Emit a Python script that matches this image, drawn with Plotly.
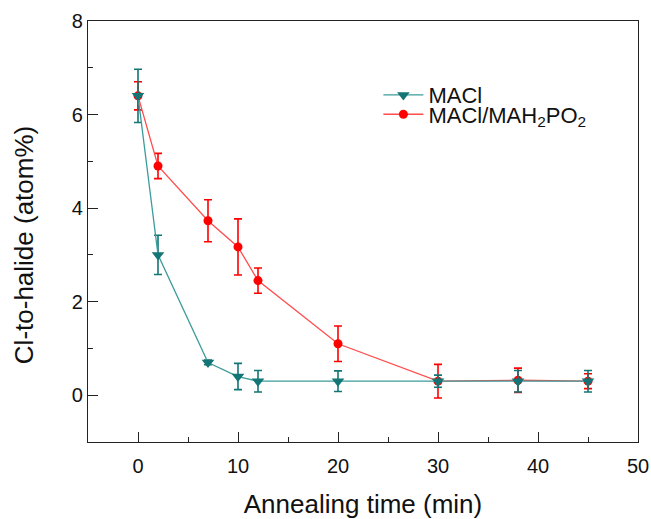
import plotly.graph_objects as go

time_min = [0, 2, 7, 10, 12, 20, 30, 38, 45]

macl_y = [6.4, 3.0, 0.7, 0.4, 0.3, 0.3, 0.3, 0.3, 0.3]
macl_err = [0.57, 0.42, 0.05, 0.28, 0.23, 0.22, 0.13, 0.23, 0.23]

mixed_y = [6.4, 4.9, 3.73, 3.17, 2.45, 1.1, 0.3, 0.32, 0.3]
mixed_err = [0.3, 0.27, 0.45, 0.6, 0.27, 0.38, 0.36, 0.26, 0.16]

x_ticks = [0, 10, 20, 30, 40, 50]
y_ticks = [0, 2, 4, 6, 8]

teal = "#137575"
teal_line = "#3c9c9c"
red = "#ff0000"
red_line = "#ff4d4d"
font_family = "Liberation Sans, Arial, sans-serif"

fig = go.Figure()

fig.add_trace(go.Scatter(
    x=time_min, y=mixed_y, mode="lines+markers",
    name="MACl/MAH<sub>2</sub>PO<sub>2</sub>",
    line=dict(color=red_line, width=1.3),
    marker=dict(symbol="circle", size=9, color=red),
    error_y=dict(type="data", array=mixed_err, symmetric=True,
                 color=red, thickness=1.6, width=4),
    legend="legend2",
))

fig.add_trace(go.Scatter(
    x=time_min, y=macl_y, mode="lines+markers",
    name="MACl",
    line=dict(color=teal_line, width=1.3),
    marker=dict(symbol="triangle-down", size=11, color=teal),
    error_y=dict(type="data", array=macl_err, symmetric=True,
                 color=teal, thickness=1.6, width=4),
    legend="legend",
))

axis_common = dict(
    showline=True, linecolor="#222", linewidth=1.3, mirror=True,
    showgrid=False, zeroline=False, ticks="inside", tickcolor="#222",
    ticklen=10, tickwidth=1.2, automargin=False,
    tickfont=dict(family=font_family, size=20, color="#111"),
)

fig.update_xaxes(
    range=[-5, 50], tickvals=x_ticks,
    minor=dict(dtick=5, tick0=0, ticks="inside", ticklen=5, tickcolor="#222", tickwidth=1.2),
    title=dict(text="Annealing time (min)",
               font=dict(family=font_family, size=26, color="#111"),
               standoff=20),
    ticklabelstandoff=6,
    **axis_common,
)
fig.update_yaxes(
    range=[-1, 8], tickvals=y_ticks,
    minor=dict(dtick=1, tick0=0, ticks="inside", ticklen=5, tickcolor="#222", tickwidth=1.2),
    **axis_common,
)

fig.add_annotation(
    text="Cl-to-halide (atom%)", textangle=-90,
    xref="paper", yref="paper", x=-0.116, y=0.468,
    xanchor="center", yanchor="middle", showarrow=False,
    font=dict(family=font_family, size=26, color="#111"),
)

legend_common = dict(
    xanchor="left", yanchor="middle", bgcolor="rgba(0,0,0,0)",
    font=dict(family=font_family, size=22, color="#111"),
    itemwidth=40, tracegroupgap=0,
)

fig.update_layout(
    width=651, height=519,
    margin=dict(l=88, r=13, t=21, b=77),
    plot_bgcolor="white", paper_bgcolor="white",
    legend=dict(x=0.528, y=0.824, **legend_common),
    legend2=dict(x=0.528, y=0.778, **legend_common),
    showlegend=True,
)

fig.write_html(
    "out.html",
    config={"displayModeBar": False},
    post_script="document.body.style.margin='0';document.body.style.overflow='hidden';",
)
